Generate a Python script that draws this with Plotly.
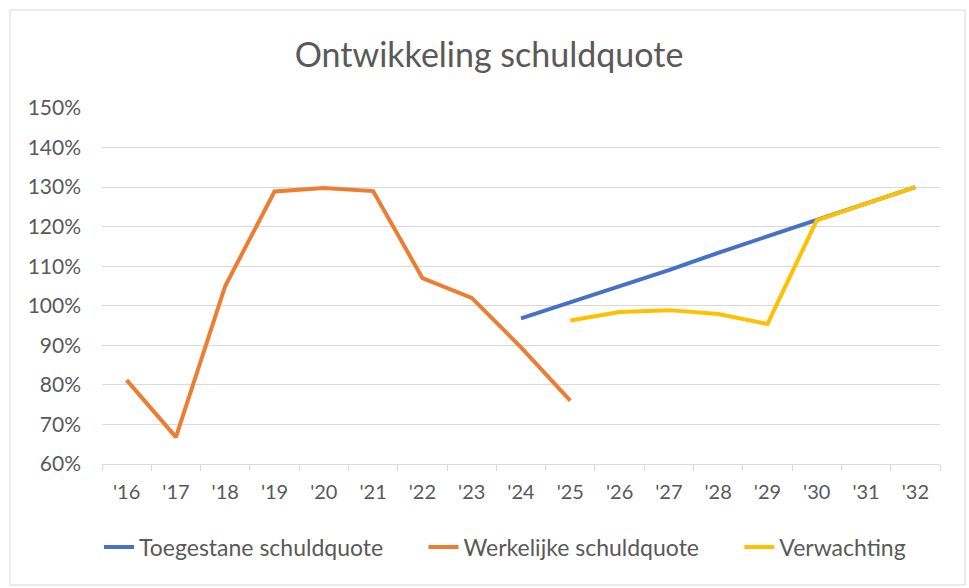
import plotly.graph_objects as go

years = ["'16", "'17", "'18", "'19", "'20", "'21", "'22", "'23", "'24", "'25",
         "'26", "'27", "'28", "'29", "'30", "'31", "'32"]

toegestaan_years = ["'24", "'25", "'26", "'27", "'28", "'29", "'30", "'31", "'32"]
toegestaan = [96.8, 100.9, 104.9, 109.0, 113.4, 117.5, 121.6, 125.8, 130.0]

werkelijk_years = ["'16", "'17", "'18", "'19", "'20", "'21", "'22", "'23", "'24", "'25"]
werkelijk = [81.2, 66.8, 105.0, 128.9, 129.8, 129.0, 107.0, 102.0, 89.5, 76.0]

verwachting_years = ["'25", "'26", "'27", "'28", "'29", "'30", "'31", "'32"]
verwachting = [96.3, 98.4, 98.9, 97.9, 95.4, 121.6, 125.8, 130.0]

series_names = ["Toegestane schuldquote", "Werkelijke schuldquote", "Verwachting"]

FONT = "Lato, Carlito, sans-serif"
GRAY = "#595959"
NB = "\u00a0"

fig = go.Figure()
fig.add_trace(go.Scatter(x=toegestaan_years, y=toegestaan, mode="lines",
                         name=series_names[0] + NB * 6,
                         line=dict(color="#4472C4", width=4)))
fig.add_trace(go.Scatter(x=werkelijk_years, y=werkelijk, mode="lines",
                         name=series_names[1] + NB * 6,
                         line=dict(color="#ED7D31", width=4)))
fig.add_trace(go.Scatter(x=verwachting_years, y=verwachting, mode="lines",
                         name=series_names[2],
                         line=dict(color="#FFC000", width=4)))

L, R, T, B = 102, 29, 108, 124
W, H = 969, 588
pw, ph = W - L - R, H - T - B

def px_x(x):
    return (x - L) / pw

def px_y(y):
    return (H - B - y) / ph

fig.update_layout(
    width=W, height=H,
    margin=dict(l=L, r=R, t=T, b=B),
    paper_bgcolor="white", plot_bgcolor="white",
    font=dict(family=FONT, color=GRAY, size=20),
    title=dict(text="Ontwikkeling schuldquote", x=489 / W, xanchor="center",
               xref="container", y=1 - 55 / H, yanchor="middle",
               font=dict(size=34, color=GRAY, family=FONT)),
    xaxis=dict(type="category", categoryorder="array", categoryarray=years,
               range=[-0.5, len(years) - 0.5],
               showgrid=False, showline=True, linecolor="#D9D9D9", linewidth=1,
               ticks="outside", tickson="boundaries", ticklen=6, tickcolor="#D9D9D9",
               ticklabelstandoff=10,
               tickfont=dict(size=20, color=GRAY), zeroline=False, fixedrange=True),
    yaxis=dict(range=[60, 150], dtick=10, tick0=60, ticksuffix="%",
               showgrid=True, gridcolor="#D9D9D9", gridwidth=1,
               showline=False, zeroline=False, ticks="", ticklabelstandoff=20,
               tickfont=dict(size=21, color=GRAY), fixedrange=True),
    legend=dict(orientation="h", x=px_x(99), xanchor="left", y=px_y(547), yanchor="middle",
                font=dict(size=23, color=GRAY), bgcolor="rgba(0,0,0,0)"),
    showlegend=True,
    shapes=[dict(type="rect", xref="paper", yref="paper",
                 x0=px_x(10), x1=px_x(965), y0=px_y(585), y1=px_y(10),
                 line=dict(color="#D9D9D9", width=1), fillcolor="rgba(0,0,0,0)",
                 layer="below")],
)

fig.write_html("out.html", config={"displayModeBar": False},
               post_script="document.body.style.margin='0';document.body.style.padding='0';")
